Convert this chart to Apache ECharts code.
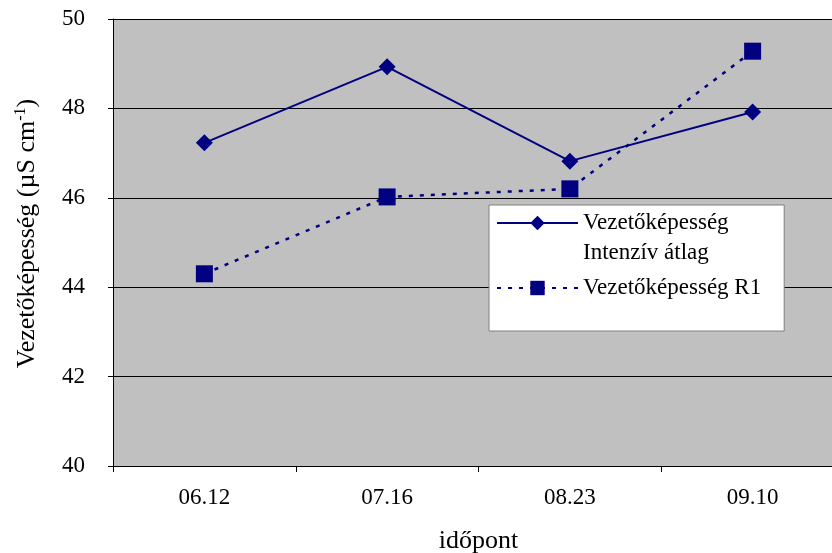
<!DOCTYPE html>
<html><head><meta charset="utf-8">
<script src="https://cdn.jsdelivr.net/npm/echarts@6/dist/echarts.min.js"></script>
<style>html,body{margin:0;padding:0;background:#fff}#c{width:832px;height:553px}</style>
</head><body><div id="c"></div>
<script>
var categories = ['06.12', '07.16', '08.23', '09.10'];
var intenzivAtlag = [47.23, 48.93, 46.82, 47.92];
var r1 = [44.30, 46.02, 46.20, 49.28];
var yTicks = [40, 42, 44, 46, 48, 50];

var chart = echarts.init(document.getElementById('c'));
var font = 'Liberation Serif, Times New Roman, serif';
chart.setOption({
  animation: false,
  textStyle: {fontFamily: font},
  grid: {left: 113, top: 19, bottom: 87, width: 731, outerBoundsMode: 'none', containLabel: false,
         backgroundColor: '#c0c0c0', show: true, borderWidth: 0},
  xAxis: {
    type: 'category', data: categories, boundaryGap: true,
    axisLine: {lineStyle: {color: '#000', width: 1}},
    axisTick: {show: true, length: 6, lineStyle: {color: '#000'}},
    axisLabel: {color: '#000', fontSize: 23, fontFamily: font, margin: 20},
    name: 'időpont', nameLocation: 'middle', nameGap: 62,
    nameTextStyle: {color: '#000', fontSize: 26, fontFamily: font, verticalAlign: 'top'},
    splitLine: {show: false}
  },
  yAxis: {
    type: 'value', min: yTicks[0], max: yTicks[yTicks.length - 1], interval: 2,
    axisLine: {show: true, lineStyle: {color: '#000'}},
    axisTick: {show: true, length: 5, lineStyle: {color: '#000'}},
    axisLabel: {color: '#000', fontSize: 23, fontFamily: font, margin: 28},
    splitLine: {show: true, lineStyle: {color: '#000', width: 1}},
    name: '{a|Vezetőképesség (µS cm}{s|-1}{a|)}', nameLocation: 'middle', nameGap: 72, nameRotate: 90,
    nameTextStyle: {
      padding: [0, 0, 0, 18],
      rich: {
        a: {fontSize: 26, color: '#000', fontFamily: font},
        s: {fontSize: 16, color: '#000', fontFamily: font, verticalAlign: 'top', padding: [0, 0, 12, 0]}
      }
    }
  },
  legend: {
    orient: 'vertical', left: 489, top: 205,
    backgroundColor: '#fff', borderColor: '#808080', borderWidth: 1,
    padding: [5, 23, 30, 7], itemGap: 39,
    itemWidth: 81, itemHeight: 18,
    textStyle: {color: '#000', fontSize: 23, fontFamily: font, lineHeight: 26},
    formatter: function (n) { return n === 'Vezetőképesség Intenzív átlag' ? 'Vezetőképesség' : n; },
    data: ['Vezetőképesség Intenzív átlag', 'Vezetőképesség R1']
  },
  graphic: [{
    type: 'text', left: 583, top: 241, z: 100,
    style: {text: 'Intenzív átlag', fill: '#000', font: '23px ' + font}
  }],
  series: [
    {
      name: 'Vezetőképesség Intenzív átlag', type: 'line', data: intenzivAtlag,
      symbol: 'diamond', symbolSize: 17, color: '#000080',
      lineStyle: {color: '#000080', width: 2}, itemStyle: {color: '#000080'}
    },
    {
      name: 'Vezetőképesség R1', type: 'line', data: r1,
      symbol: 'rect', symbolSize: 17, color: '#000080',
      lineStyle: {color: '#000080', width: 2.5, type: [4, 7]}, itemStyle: {color: '#000080'}
    }
  ]
});
</script></body></html>
